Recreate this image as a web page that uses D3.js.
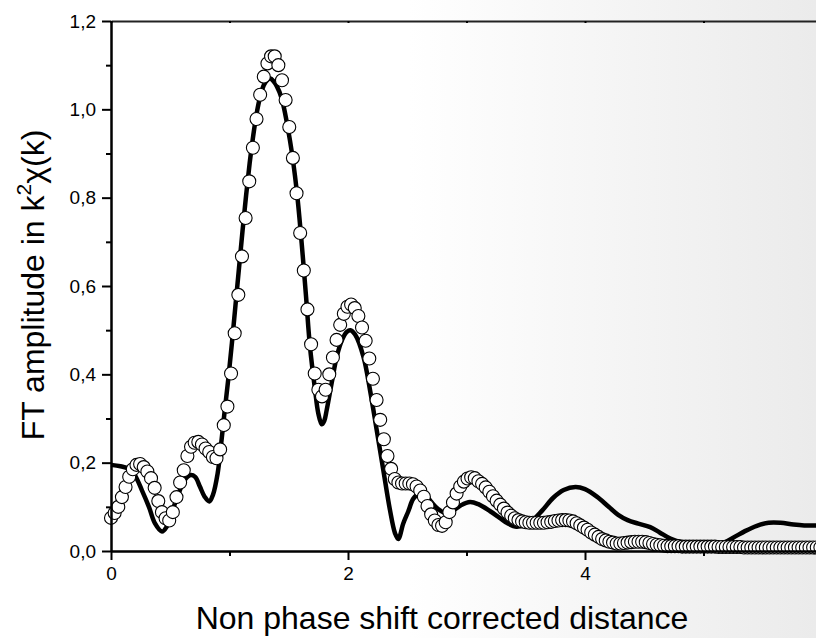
<!DOCTYPE html>
<html lang="en">
<head>
    <meta charset="UTF-8">
    <title>FT amplitude</title>
    <script src="https://cdnjs.cloudflare.com/ajax/libs/d3/7.8.5/d3.min.js"></script>
    <style>
        body {
            margin: 0;
            background-color: #ffffff;
        }
        svg text {
            font-family: Arial, "Liberation Sans", sans-serif;
            fill: #000;
        }
    </style>
</head>
<body>
    <div id="plot"></div>

    <script>
        // Fit (open circles): values on a regular distance grid
        const fitStep = 0.0307;
        const fitValues = [
            0.075, 0.086, 0.100, 0.122, 0.145, 0.168, 0.185, 0.195, 0.197, 0.190,
            0.180, 0.165, 0.143, 0.113, 0.088, 0.074, 0.069, 0.088, 0.122, 0.155,
            0.183, 0.215, 0.236, 0.245, 0.247, 0.241, 0.232, 0.224, 0.213, 0.210,
            0.230, 0.285, 0.327, 0.402, 0.493, 0.580, 0.667, 0.754, 0.837, 0.913,
            0.978, 1.033, 1.074, 1.104, 1.120, 1.120, 1.100, 1.066, 1.021, 0.960,
            0.890, 0.810, 0.720, 0.635, 0.547, 0.468, 0.402, 0.365, 0.350, 0.365,
            0.400, 0.438, 0.478, 0.512, 0.537, 0.553, 0.558, 0.550, 0.532, 0.506,
            0.476, 0.436, 0.390, 0.342, 0.297, 0.253, 0.215, 0.186, 0.163, 0.155,
            0.153, 0.153, 0.153, 0.151, 0.146, 0.137, 0.123, 0.102, 0.083, 0.069,
            0.059, 0.057, 0.065, 0.088, 0.110, 0.130, 0.146, 0.157, 0.164, 0.167,
            0.165, 0.158, 0.152, 0.144, 0.134, 0.124, 0.114, 0.105, 0.096, 0.087,
            0.080, 0.074, 0.070, 0.067, 0.065, 0.064, 0.064, 0.064, 0.064, 0.064,
            0.065, 0.066, 0.068, 0.069, 0.070, 0.070, 0.069, 0.067, 0.063, 0.058,
            0.053, 0.048, 0.042, 0.037, 0.032, 0.027, 0.024, 0.021, 0.019, 0.017,
            0.017, 0.018, 0.019, 0.020, 0.021, 0.021, 0.021, 0.020, 0.018, 0.016,
            0.014, 0.013, 0.012, 0.011, 0.011, 0.011, 0.011, 0.010, 0.010, 0.010,
            0.010, 0.010, 0.010, 0.010, 0.010, 0.010, 0.010, 0.009, 0.009, 0.009,
            0.009, 0.009, 0.009, 0.009, 0.008, 0.008, 0.008, 0.008, 0.008, 0.008,
            0.008, 0.008, 0.008, 0.008, 0.008, 0.008, 0.008, 0.008, 0.008, 0.008,
            0.008, 0.008, 0.008, 0.008, 0.008, 0.008
        ];

        // Experiment (solid line)
        const expR = [
            0.00, 0.08, 0.15, 0.20, 0.26, 0.32, 0.37, 0.43, 0.47, 0.51,
            0.57, 0.62, 0.67, 0.71, 0.75, 0.79, 0.83, 0.86, 0.90, 0.93,
            0.96, 0.99, 1.02, 1.05, 1.08, 1.11, 1.14, 1.17, 1.20, 1.23,
            1.26, 1.29, 1.32, 1.345, 1.37, 1.40, 1.44, 1.51, 1.567, 1.609,
            1.646, 1.679, 1.722, 1.749, 1.778, 1.80, 1.82, 1.862, 1.905, 1.95,
            1.99, 2.02, 2.06, 2.13, 2.186, 2.242, 2.298, 2.354, 2.397, 2.424,
            2.467, 2.509, 2.55, 2.60, 2.65, 2.70, 2.76, 2.82, 2.88, 2.95,
            3.03, 3.10, 3.20, 3.28, 3.35, 3.42, 3.48, 3.56, 3.64, 3.73,
            3.82, 3.92, 4.00, 4.10, 4.20, 4.28, 4.36, 4.45, 4.55, 4.63,
            4.72, 4.82, 4.92, 5.04, 5.15, 5.25, 5.35, 5.45, 5.55, 5.65,
            5.76, 5.85, 5.95, 6.00
        ];
        const expValues = [
            0.195, 0.192, 0.186, 0.172, 0.138, 0.100, 0.063, 0.044, 0.055, 0.085,
            0.130, 0.160, 0.172, 0.168, 0.146, 0.123, 0.112, 0.127, 0.176, 0.244,
            0.319, 0.390, 0.470, 0.555, 0.640, 0.725, 0.805, 0.878, 0.940, 0.992,
            1.030, 1.055, 1.067, 1.070, 1.064, 1.052, 1.025, 0.930, 0.817, 0.697,
            0.576, 0.463, 0.365, 0.312, 0.287, 0.295, 0.319, 0.380, 0.440, 0.478,
            0.496, 0.500, 0.490, 0.440, 0.364, 0.274, 0.183, 0.093, 0.040, 0.027,
            0.063, 0.090, 0.118, 0.130, 0.128, 0.112, 0.095, 0.086, 0.090, 0.103,
            0.111, 0.106, 0.090, 0.075, 0.062, 0.055, 0.058, 0.070, 0.092, 0.120,
            0.138, 0.145, 0.140, 0.123, 0.100, 0.082, 0.070, 0.062, 0.054, 0.042,
            0.028, 0.019, 0.014, 0.013, 0.017, 0.030, 0.045, 0.057, 0.064, 0.064,
            0.060, 0.058, 0.058, 0.058
        ];

        const xMajor = [0, 2, 4];
        const xMinor = [1, 3, 5];
        const yMajor = [0, 0.2, 0.4, 0.6, 0.8, 1.0, 1.2];
        const yMinor = [0.1, 0.3, 0.5, 0.7, 0.9, 1.1];

        const W = 816, H = 638;
        const svg = d3.select("#plot")
            .append("svg")
                .attr("width", W)
                .attr("height", H);

        // grey fade on the right side
        const grad = svg.append("defs").append("linearGradient")
            .attr("id", "bg")
            .attr("x1", "0%").attr("x2", "100%")
            .attr("y1", "0%").attr("y2", "0%");
        grad.append("stop").attr("offset", "50%").attr("stop-color", "#ffffff");
        grad.append("stop").attr("offset", "100%").attr("stop-color", "#ebebeb");
        svg.append("rect")
            .attr("width", W).attr("height", H)
            .attr("fill", "url(#bg)");

        // scales
        const x = d3.scaleLinear().domain([0, 6]).range([111, 822]);
        const y = d3.scaleLinear().domain([0, 1.2]).range([551, 21]);

        const fmt = d => d3.format(".1f")(d).replace(".", ",");

        // experimental line
        const expData = expR.map((r, i) => ({r, v: expValues[i]}));
        const line = d3.line()
            .x(d => x(d.r))
            .y(d => y(d.v))
            .curve(d3.curveCatmullRom.alpha(0.5));

        svg.append("path")
            .datum(expData)
            .attr("fill", "none")
            .attr("stroke", "#000")
            .attr("stroke-width", 4.5)
            .attr("stroke-linejoin", "round")
            .attr("d", line);

        // fit circles
        const fitData = fitValues.map((v, i) => ({r: i * fitStep, v}));
        svg.append("g")
            .selectAll("circle")
            .data(fitData)
            .join("circle")
                .attr("cx", d => x(d.r))
                .attr("cy", d => y(d.v))
                .attr("r", 6.5)
                .attr("fill", "#fff")
                .attr("stroke", "#000")
                .attr("stroke-width", 1.1);

        // axes
        const axisStyle = g => {
            g.select(".domain").attr("stroke", "#000").attr("stroke-width", 2);
            g.selectAll(".tick line").attr("stroke", "#000").attr("stroke-width", 2);
            g.selectAll("text").style("font-size", "19px");
        };

        svg.append("g")
            .attr("transform", "translate(0,551)")
            .call(d3.axisBottom(x).tickValues(xMinor).tickSize(5).tickFormat("").tickSizeOuter(0))
            .call(axisStyle);
        svg.append("g")
            .attr("transform", "translate(0,551)")
            .call(d3.axisBottom(x).tickValues(xMajor).tickSize(9).tickPadding(7)
                .tickFormat(d3.format("d")).tickSizeOuter(0))
            .call(axisStyle);

        // top frame line
        svg.append("g")
            .attr("transform", "translate(0,21)")
            .call(d3.axisTop(x).tickValues(xMinor.concat(xMajor)).tickSize(-2).tickFormat("").tickSizeOuter(0))
            .call(axisStyle)
            .call(g => g.select(".domain").attr("stroke", "#222"));

        svg.append("g")
            .attr("transform", "translate(111,0)")
            .call(d3.axisLeft(y).tickValues(yMinor).tickSize(5).tickFormat("").tickSizeOuter(0))
            .call(axisStyle);
        svg.append("g")
            .attr("transform", "translate(111,0)")
            .call(d3.axisLeft(y).tickValues(yMajor).tickSize(9).tickPadding(6)
                .tickFormat(fmt).tickSizeOuter(0))
            .call(axisStyle);

        // axis titles
        svg.append("text")
            .attr("text-anchor", "middle")
            .attr("x", 442)
            .attr("y", 629)
            .style("font-size", "32px")
            .text("Non phase shift corrected distance");

        const yTitle = svg.append("text")
            .attr("text-anchor", "middle")
            .attr("transform", "translate(44,285) rotate(-90)")
            .style("font-size", "32px");
        yTitle.append("tspan").text("FT amplitude in k");
        yTitle.append("tspan").attr("dy", -13).style("font-size", "21px").text("2");
        yTitle.append("tspan").attr("dy", 13).text("\u03c7(k)");
    </script>
</body>
</html>
